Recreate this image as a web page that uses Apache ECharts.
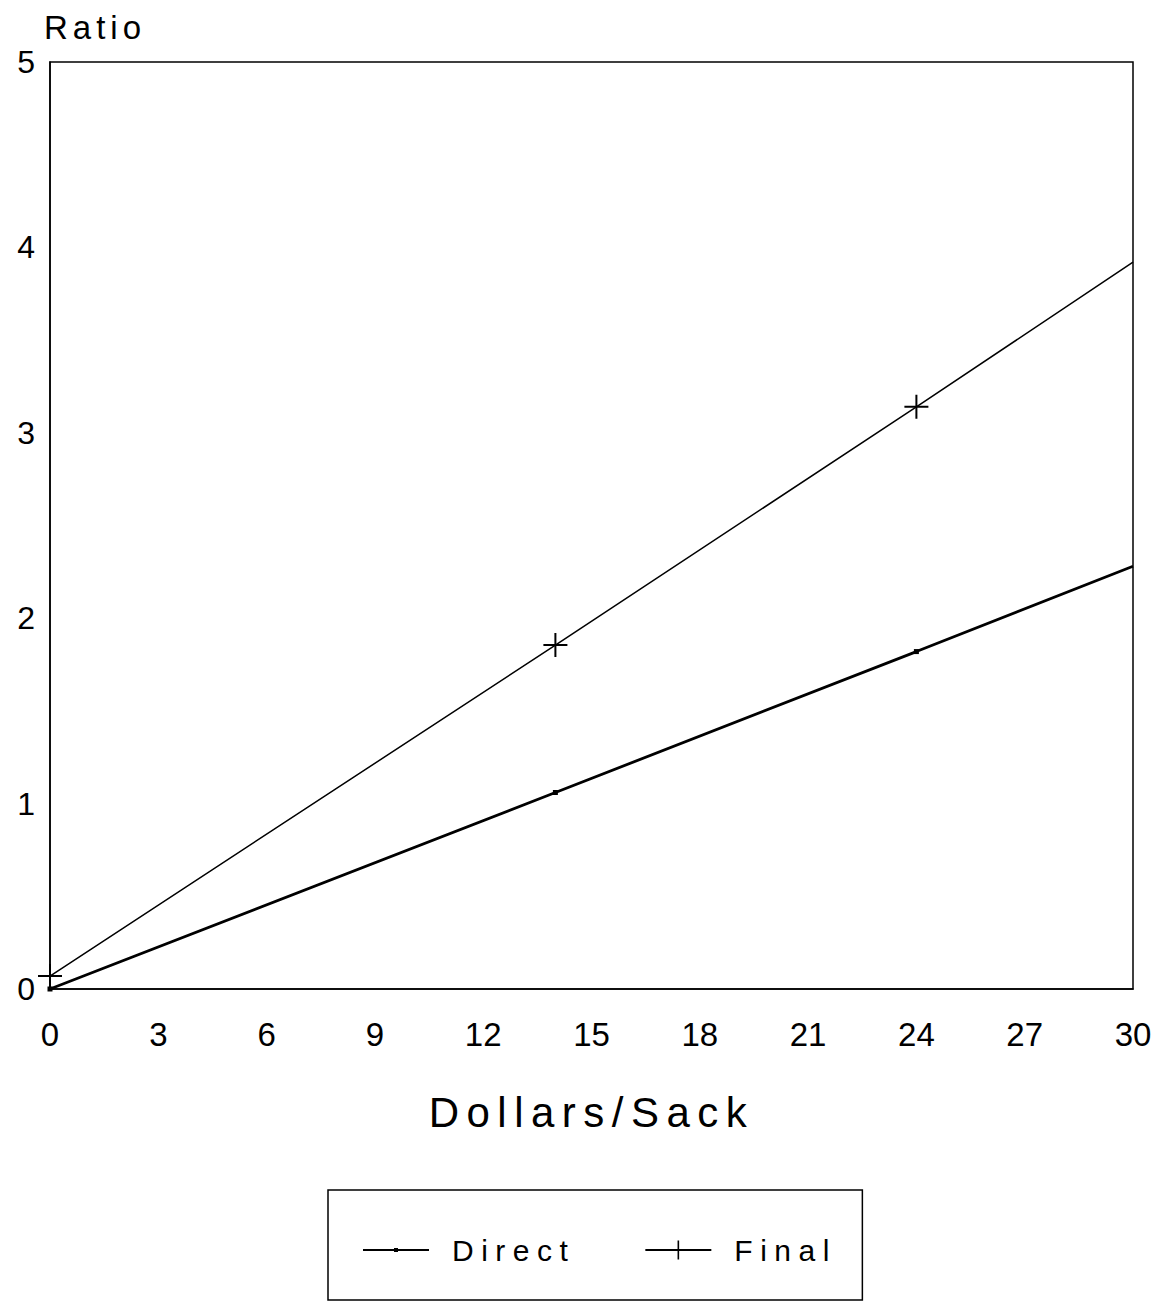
<!DOCTYPE html>
<html>
<head>
<meta charset="utf-8">
<script src="https://cdn.jsdelivr.net/npm/echarts@6/dist/echarts.min.js"></script>
<style>
  html, body { margin: 0; padding: 0; background: #fff; }
  #chart { width: 1167px; height: 1303px; }
  /* spaced lettering for the plotter-style words (names and legend) */
  #chart text[style*="Arimo"] { letter-spacing: 7.5px; }
  #chart text[style*="Helvetica"] { letter-spacing: 5px; }
</style>
</head>
<body>
<div id="chart"></div>
<script>
// ---- data ----
const xValues = [0, 14, 24, 30];
const directValues = [0, 1.06, 1.82, 2.28];
const finalValues = [0.07, 1.855, 3.14, 3.92];
const markedPoints = [true, true, true, false];
const seriesNames = ['Direct', 'Final'];
const xAxisTitle = 'Dollars/Sack';
const yAxisTitle = 'Ratio';

const WORD_FONT = '"Liberation Sans", Arimo, sans-serif';
const TITLE_FONT = '"Liberation Sans", Helvetica, sans-serif';
const NUM_FONT = '"Liberation Sans", sans-serif';

const DOT = 'path://M0,0 M24,24 M9.5,9.5 H14.5 V14.5 H9.5 Z';
const PLUS = 'path://M0,11 H24 V13 H0 Z M11,0 H13 V24 H11 Z';

function build(vals) {
  return xValues.map((x, i) => markedPoints[i]
    ? [x, vals[i]]
    : { value: [x, vals[i]], symbol: 'none' });
}

const chart = echarts.init(document.getElementById('chart'), null, { renderer: 'svg' });
chart.setOption({
  animation: false,
  backgroundColor: '#fff',
  grid: {
    left: 50, right: 34, top: 62, bottom: 314,
    show: true, borderColor: '#000', borderWidth: 1.5, backgroundColor: 'transparent'
  },
  xAxis: {
    type: 'value', min: 0, max: 30, interval: 3,
    name: xAxisTitle, nameLocation: 'middle', nameGap: 102,
    nameTextStyle: { fontSize: 42, color: '#000', fontFamily: WORD_FONT },
    axisLine: { show: true, onZero: false, lineStyle: { color: '#000', width: 1.5 } },
    axisTick: { show: false },
    splitLine: { show: false },
    axisLabel: { fontSize: 33, color: '#000', margin: 29, fontFamily: NUM_FONT }
  },
  yAxis: {
    type: 'value', min: 0, max: 5, interval: 1,
    name: yAxisTitle, nameLocation: 'end', nameGap: 18,
    nameTextStyle: { fontSize: 33, color: '#000', align: 'left', fontFamily: TITLE_FONT, padding: [0, 0, 0, -6] },
    axisLine: { show: true, lineStyle: { color: '#000', width: 1.5 } },
    axisTick: { show: false },
    splitLine: { show: false },
    axisLabel: { fontSize: 32, color: '#000', margin: 15, padding: [10, 0, 0, 0], fontFamily: NUM_FONT }
  },
  legend: {
    left: 328, top: 1190,
    orient: 'horizontal',
    data: seriesNames,
    itemWidth: 66, itemHeight: 24, itemGap: 114,
    padding: [45, 63, 35, 34],
    borderColor: '#000', borderWidth: 1.5,
    textStyle: { fontSize: 30, color: '#000', fontFamily: WORD_FONT, padding: [0, 0, 0, 18], lineHeight: 30 }
  },
  series: [
    {
      name: seriesNames[0], type: 'line',
      data: build(directValues),
      symbol: DOT, symbolSize: 24,
      color: '#000',
      lineStyle: { color: '#000', width: 2.8 },
      itemStyle: { color: '#000' }
    },
    {
      name: seriesNames[1], type: 'line',
      data: build(finalValues),
      symbol: PLUS, symbolSize: 24,
      color: '#000',
      lineStyle: { color: '#000', width: 1.5 },
      itemStyle: { color: '#000' }
    }
  ]
});
</script>
</body>
</html>
